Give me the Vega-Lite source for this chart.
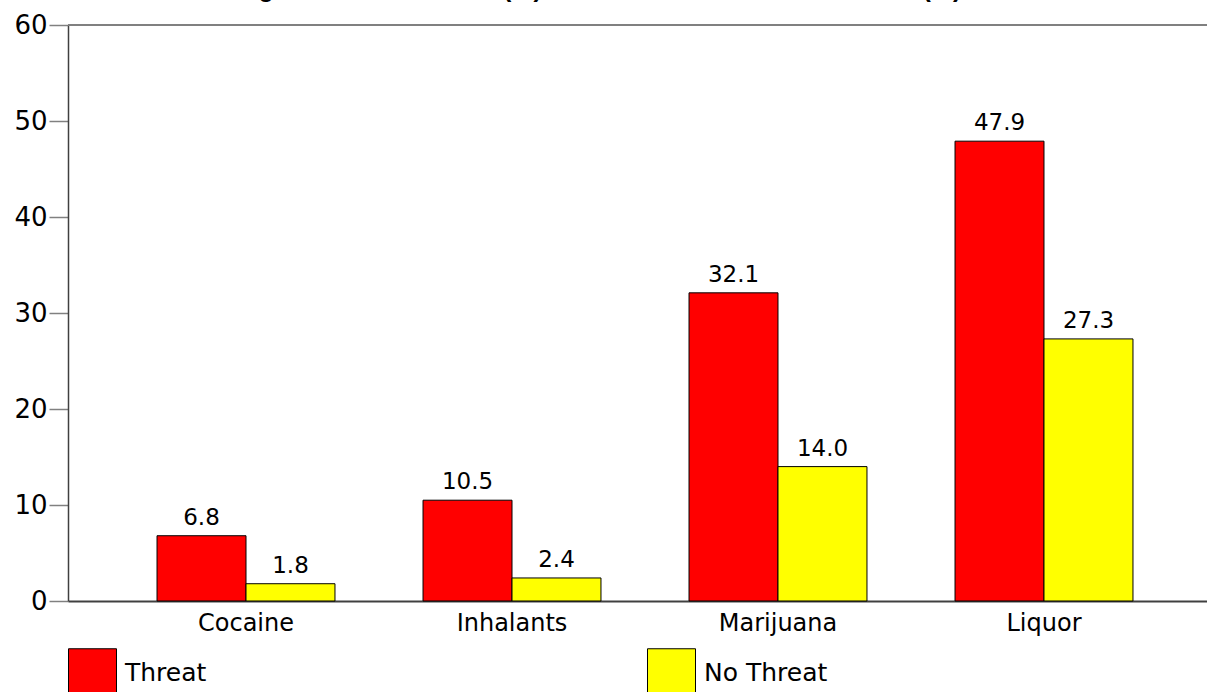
{
  "$schema": "https://vega.github.io/schema/vega-lite/v6.json",
  "autosize": {"type": "none"},
  "width": 1139,
  "height": 576,
  "padding": {"left": 68, "top": 25, "right": 0, "bottom": 91},
  "background": "white",
  "title": {
    "text": "Drug Use in Last Month (%) Threatened vs. Not Threatened (%)",
    "font": "Liberation Sans",
    "fontSize": 25,
    "fontWeight": "bold",
    "color": "black",
    "anchor": "middle",
    "baseline": "alphabetic",
    "offset": -10,
    "dx": -49
  },
  "config": {
    "font": "DejaVu Sans",
    "view": {"stroke": null},
    "axis": {"grid": false}
  },
  "data": {
    "values": [
      {"drug": "Cocaine", "group": "Threat", "value": 6.8},
      {"drug": "Cocaine", "group": "No Threat", "value": 1.8},
      {"drug": "Inhalants", "group": "Threat", "value": 10.5},
      {"drug": "Inhalants", "group": "No Threat", "value": 2.4},
      {"drug": "Marijuana", "group": "Threat", "value": 32.1},
      {"drug": "Marijuana", "group": "No Threat", "value": 14.0},
      {"drug": "Liquor", "group": "Threat", "value": 47.9},
      {"drug": "Liquor", "group": "No Threat", "value": 27.3}
    ]
  },
  "layer": [
    {
      "data": {"values": [{"top": 60}]},
      "mark": {"type": "rule", "color": "#808080", "strokeWidth": 2},
      "encoding": {
        "y": {"field": "top", "type": "quantitative", "scale": {"domain": [0, 60], "nice": false}}
      }
    },
    {
      "mark": {"type": "bar", "stroke": "black", "strokeWidth": 1},
      "encoding": {
        "x": {
          "field": "drug",
          "type": "nominal",
          "sort": ["Cocaine", "Inhalants", "Marijuana", "Liquor"],
          "scale": {"paddingInner": 0.331, "paddingOuter": 0.3065, "align": 0.546},
          "axis": {
            "title": null,
            "labelAngle": 0,
            "labelFontSize": 24,
            "labelColor": "black",
            "labelFont": "DejaVu Sans",
            "ticks": false,
            "labelPadding": 10,
            "domainColor": "#404040",
            "domainWidth": 2
          }
        },
        "xOffset": {
          "field": "group",
          "type": "nominal",
          "sort": ["Threat", "No Threat"],
          "scale": {"paddingInner": 0, "paddingOuter": 0}
        },
        "y": {
          "field": "value",
          "type": "quantitative",
          "scale": {"domain": [0, 60], "nice": false},
          "axis": {
            "title": null,
            "values": [0, 10, 20, 30, 40, 50, 60],
            "labelFontSize": 26,
            "labelColor": "black",
            "labelFont": "DejaVu Sans",
            "tickSize": 19,
            "tickColor": "#808080",
            "tickWidth": 1.5,
            "labelPadding": 2,
            "domainColor": "#404040",
            "domainWidth": 1.5
          }
        },
        "color": {
          "field": "group",
          "type": "nominal",
          "sort": ["Threat", "No Threat"],
          "scale": {"domain": ["Threat", "No Threat"], "range": ["#FF0000", "#FFFF00"]},
          "legend": {
            "title": null,
            "orient": "none",
            "legendX": 0,
            "legendY": 623,
            "direction": "horizontal",
            "columns": 2,
            "symbolType": "square",
            "symbolSize": 2304,
            "symbolStrokeColor": "black",
            "symbolStrokeWidth": 1,
            "symbolOpacity": 1,
            "labelFontSize": 25,
            "labelColor": "black",
            "labelFont": "DejaVu Sans",
            "labelOffset": 8,
            "columnPadding": 438
          }
        }
      }
    },
    {
      "mark": {"type": "text", "baseline": "alphabetic", "dy": -11, "fontSize": 23, "color": "black", "font": "DejaVu Sans"},
      "encoding": {
        "x": {"field": "drug", "type": "nominal", "sort": ["Cocaine", "Inhalants", "Marijuana", "Liquor"]},
        "xOffset": {"field": "group", "type": "nominal", "sort": ["Threat", "No Threat"]},
        "y": {"field": "value", "type": "quantitative"},
        "text": {"field": "value", "type": "quantitative", "format": ".1f"}
      }
    }
  ]
}
